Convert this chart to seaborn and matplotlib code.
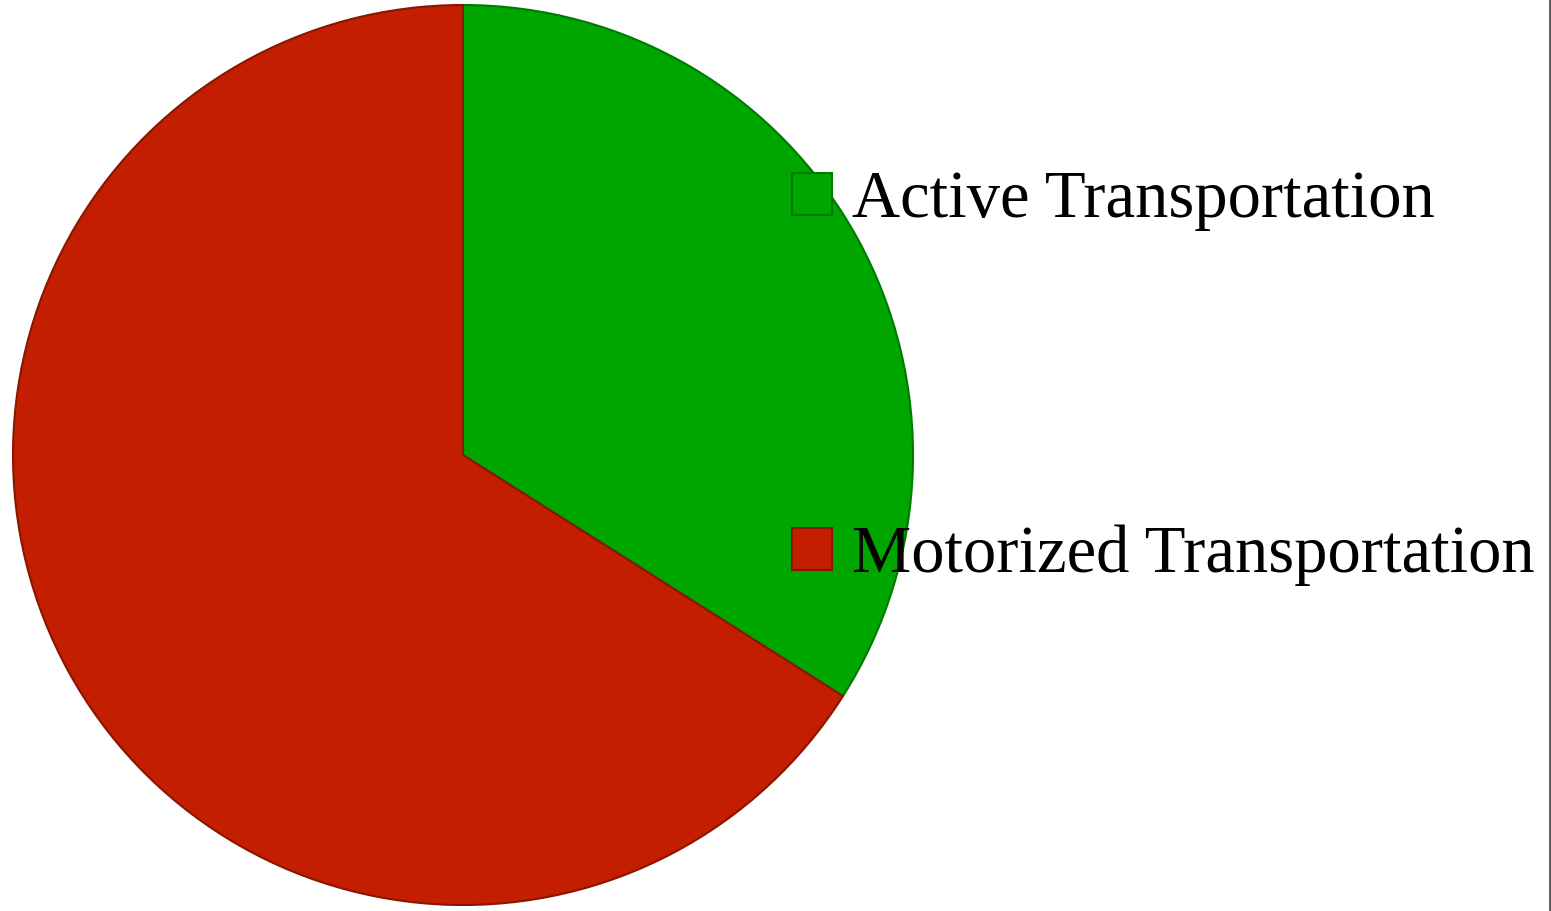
import matplotlib.pyplot as plt
import seaborn as sns
from matplotlib.lines import Line2D

labels = ['Active Transportation', 'Motorized Transportation']
shares = [34, 66]
colors = ['#00a600', '#c41e00']
edges = ['#007a00', '#8a1500']

sns.set_theme(style='white')
plt.rcParams['font.family'] = ['Liberation Serif', 'DejaVu Serif']

fig = plt.figure(figsize=(15.51, 9.11), dpi=100)
ax = fig.add_axes([13 / 1551, 6 / 911, 900 / 1551, 900 / 911])

wedges, _ = ax.pie(shares, colors=colors, startangle=90, counterclock=False,
                   radius=1, wedgeprops=dict(linewidth=1.5))
for w, ec in zip(wedges, edges):
    w.set_edgecolor(ec)
ax.set_xlim(-1, 1)
ax.set_ylim(-1, 1)
ax.set_aspect('equal')
ax.axis('off')

leg = fig.legend(wedges, labels, loc='upper left', bbox_to_anchor=(759 / 1551, 1 - 137 / 911),
                 frameon=False, fontsize=48, handlelength=0.6, handleheight=0.6,
                 handletextpad=0.3, labelspacing=4.4, borderpad=0, labelcolor='black')

# thin frame line at the right edge
fig.add_artist(Line2D([1549.5 / 1551, 1549.5 / 1551], [0, 1], color='#555555', linewidth=2,
                      transform=fig.transFigure))

fig.savefig('out.png', dpi=100)
